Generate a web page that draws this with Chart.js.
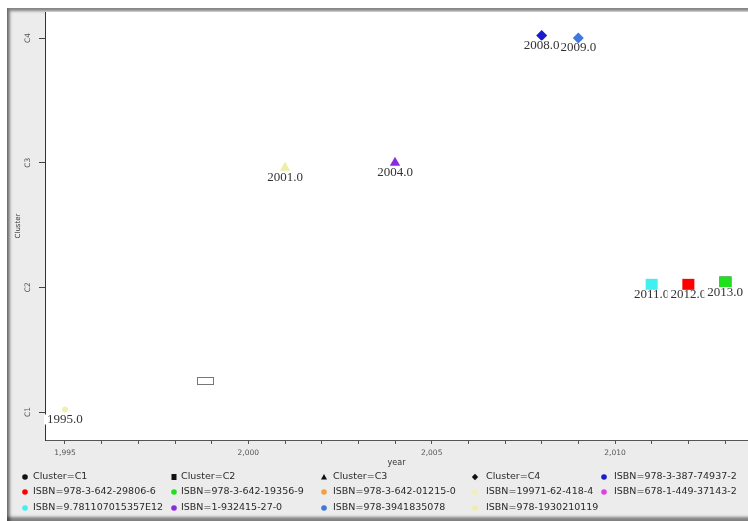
<!DOCTYPE html>
<html>
<head>
<meta charset="utf-8">
<script src="https://cdn.jsdelivr.net/npm/chart.js@4.4.1/dist/chart.umd.min.js"></script>
<style>
  html, body { margin: 0; padding: 0; background: #fff; overflow: hidden; width: 748px; height: 521px; }
  #frame {
    position: absolute; left: 7px; top: 8px; width: 770px; height: 513px;
    background: #ececec;
    box-shadow: inset 3px 3px 3px rgba(0,0,0,0.45), inset 0 -4px 3px rgba(0,0,0,0.45);
  }
  #chart { position: absolute; left: 0; top: 0; }
</style>
</head>
<body>
<div id="frame"></div>
<canvas id="chart" width="748" height="521"></canvas>
<script>
// points, in drawing order
var years = [1995, 2001, 2004, 2009, 2008, 2011, 2012, 2013.02, 2013];
var clusterValues = [0.02, 1.96, 2.0, 3.0, 3.02, 1.02, 1.02, 1.04, 1.04];
var pointLabels = ['1995.0', '2001.0', '2004.0', '2009.0', '2008.0', '2011.0', '2012.0', '2013.0', '2013.0'];
var pointClusters = ['C1', 'C3', 'C3', 'C4', 'C4', 'C2', 'C2', 'C2', 'C2'];
var pointIsbns = ['ISBN=19971-62-418-4', 'ISBN=978-1930210119', 'ISBN=1-932415-27-0',
  'ISBN=978-3941835078', 'ISBN=978-3-387-74937-2', 'ISBN=9.781107015357E12',
  'ISBN=978-3-642-29806-6', 'ISBN=678-1-449-37143-2', 'ISBN=978-3-642-19356-9'];

var clusterNames = ['C1', 'C2', 'C3', 'C4'];
var isbnNames = ['ISBN=978-3-387-74937-2', 'ISBN=978-3-642-29806-6', 'ISBN=978-3-642-19356-9',
  'ISBN=978-3-642-01215-0', 'ISBN=19971-62-418-4', 'ISBN=678-1-449-37143-2',
  'ISBN=9.781107015357E12', 'ISBN=1-932415-27-0', 'ISBN=978-3941835078', 'ISBN=978-1930210119'];
var isbnColors = ['#1c1ccf', '#ff0000', '#1fe01f', '#f4a040', '#f0f0b4', '#e040e0',
  '#40f0f0', '#8a2be2', '#3f78dc', '#eeeea8'];

var shapes = { C1: 'circle', C2: 'rect', C3: 'triangle', C4: 'rectRot' };
var shapeSize = { circle: 3, rect: 8.5, triangle: 6, rectRot: 5.5 };

function isbnColor(name) { return isbnColors[isbnNames.indexOf(name)]; }

var points = years.map(function (y, i) { return { x: y, y: clusterValues[i] }; });
var styles = pointClusters.map(function (c) { return shapes[c]; });

var legendItems = [];
clusterNames.forEach(function (c) {
  legendItems.push({ text: 'Cluster=' + c, color: '#111', shape: shapes[c] });
});
isbnNames.forEach(function (n, i) {
  legendItems.push({ text: n, color: isbnColors[i], shape: 'circle' });
});

var bgPlugin = {
  id: 'bg',
  beforeDraw: function (chart) {
    var a = chart.chartArea, ctx = chart.ctx;
    ctx.save();
    ctx.fillStyle = '#fff';
    ctx.fillRect(a.left, a.top, a.right - a.left, a.bottom - a.top);
    ctx.restore();
  }
};

var labelPlugin = {
  id: 'pointLabels',
  afterDatasetsDraw: function (chart) {
    var ctx = chart.ctx;
    var meta = chart.getDatasetMeta(0);
    var xs = chart.scales.x, ys = chart.scales.y;
    ctx.save();
    // small empty box seen in the plot
    ctx.strokeStyle = '#777';
    ctx.lineWidth = 1;
    var bx = xs.getPixelForValue(1998.59), bx2 = xs.getPixelForValue(1999.03);
    var by = ys.getPixelForValue(0.283), by2 = ys.getPixelForValue(0.227);
    ctx.strokeRect(Math.round(bx) + 0.5, Math.round(by) + 0.5, Math.round(bx2 - bx), Math.round(by2 - by));

    ctx.font = '13px "Liberation Serif"';
    ctx.textAlign = 'center';
    ctx.textBaseline = 'middle';
    meta.data.forEach(function (el, i) {
      var t = pointLabels[i];
      var w = ctx.measureText(t).width;
      var ly = el.y + 10;
      ctx.fillStyle = '#fff';
      ctx.fillRect(el.x - w / 2 - 3, ly - 5, w + 3, 10);
      ctx.fillStyle = '#333';
      ctx.fillText(t, el.x, ly);
    });
    ctx.restore();
  }
};

function drawShape(ctx, shape, x, y, color) {
  ctx.fillStyle = color;
  ctx.beginPath();
  if (shape === 'circle') {
    ctx.arc(x, y, 2.8, 0, Math.PI * 2);
  } else if (shape === 'rect') {
    ctx.rect(x - 2.5, y - 3, 5, 6);
  } else if (shape === 'triangle') {
    ctx.moveTo(x, y - 3); ctx.lineTo(x + 3, y + 2.5); ctx.lineTo(x - 3, y + 2.5); ctx.closePath();
  } else {
    ctx.moveTo(x, y - 3.2); ctx.lineTo(x + 3.2, y); ctx.lineTo(x, y + 3.2); ctx.lineTo(x - 3.2, y); ctx.closePath();
  }
  ctx.fill();
}

var legendPlugin = {
  id: 'gridLegend',
  afterDraw: function (chart) {
    var ctx = chart.ctx;
    var markX = [25, 174, 324, 475, 604];
    var textX = [33, 181, 333, 486, 614];
    var rowY = [477, 492, 508];
    ctx.save();
    ctx.font = '9.5px "DejaVu Sans"';
    ctx.textBaseline = 'middle';
    ctx.textAlign = 'left';
    legendItems.forEach(function (it, i) {
      var col = i % 5, row = Math.floor(i / 5);
      drawShape(ctx, it.shape, markX[col], rowY[row], it.color);
      ctx.fillStyle = '#2a2a2a';
      ctx.fillText(it.text, textX[col], rowY[row]);
    });
    ctx.restore();
  }
};

var chart = new Chart(document.getElementById('chart'), {
  type: 'scatter',
  data: {
    datasets: [{
      label: 'books',
      data: points,
      backgroundColor: pointIsbns.map(isbnColor),
      borderWidth: 0,
      pointStyle: styles,
      pointRadius: styles.map(function (s) { return shapeSize[s]; }),
      pointHoverRadius: styles.map(function (s) { return shapeSize[s]; })
    }]
  },
  options: {
    responsive: false,
    animation: false,
    events: [],
    layout: { autoPadding: false, padding: { top: 12, left: 0, right: 0, bottom: 0 } },
    plugins: {
      legend: { display: false },
      tooltip: { enabled: false }
    },
    scales: {
      x: {
        type: 'linear',
        min: 1994.4546,
        max: 2013.627,
        afterFit: function (s) { s.height = 81; s.paddingLeft = 0; s.paddingRight = 0; },
        border: { color: '#555' },
        grid: { drawOnChartArea: false, drawTicks: true, tickLength: 4, color: '#555' },
        ticks: {
          stepSize: 1,
          includeBounds: false,
          autoSkip: false,
          maxRotation: 0,
          padding: 5,
          color: '#555',
          font: { family: 'DejaVu Sans', size: 7.5 },
          callback: function (v) {
            var r = Math.round(v);
            return r % 5 === 0 ? r.toLocaleString('en-US') : '';
          }
        },
        title: {
          display: true,
          text: 'year',
          color: '#333',
          font: { family: 'DejaVu Sans', size: 8 },
          padding: { top: 0, bottom: 53 }
        }
      },
      y: {
        type: 'linear',
        min: -0.2246,
        max: 3.2086,
        afterFit: function (s) { s.width = 45; s.paddingTop = 0; s.paddingBottom = 0; },
        border: { color: '#333' },
        grid: { drawOnChartArea: false, drawTicks: true, tickLength: 6, color: '#444' },
        ticks: {
          stepSize: 1,
          includeBounds: false,
          minRotation: 90,
          maxRotation: 90,
          crossAlign: 'center',
          padding: 6,
          color: '#555',
          font: { family: 'DejaVu Sans', size: 7.5 },
          callback: function (v) { return clusterNames[v] !== undefined ? clusterNames[v] : ''; }
        },
        title: {
          display: true,
          text: 'Cluster',
          color: '#333',
          font: { family: 'DejaVu Sans', size: 7 },
          padding: { top: 14, bottom: 0 }
        }
      }
    }
  },
  plugins: [bgPlugin, labelPlugin, legendPlugin]
});
</script>
</body>
</html>
